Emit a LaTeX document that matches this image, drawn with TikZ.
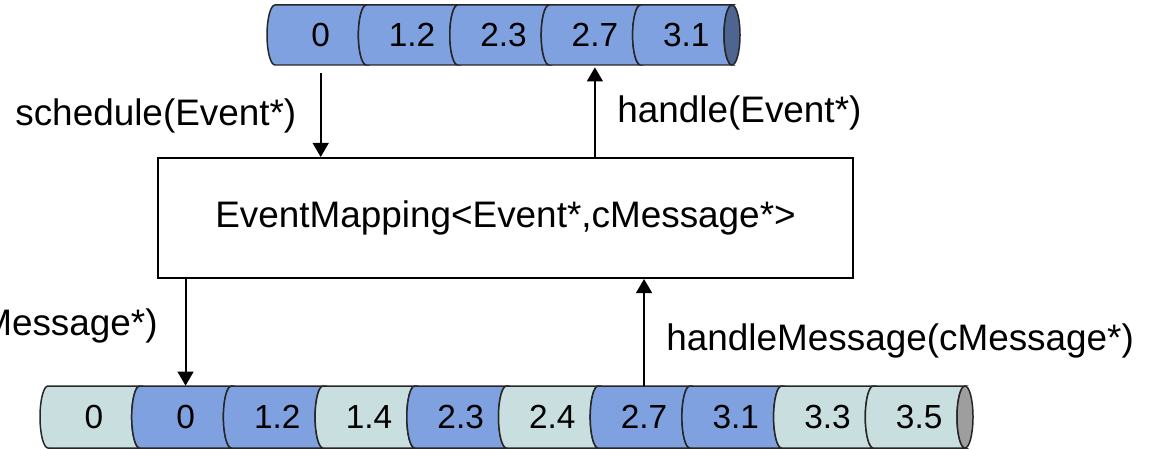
\documentclass[tikz,border=0pt]{standalone}
\usepackage{fontspec}
\setmainfont{Liberation Sans}
\usetikzlibrary{arrows.meta}

\definecolor{evblue}{RGB}{127,161,224}
\definecolor{evdark}{RGB}{78,101,145}
\definecolor{msglight}{RGB}{201,222,223}
\definecolor{msgend}{RGB}{158,158,158}

\begin{document}
\begin{tikzpicture}[x=0.02cm,y=0.02cm,
  cell/.style={draw=black!85,line width=0.85pt},
  num/.style={inner sep=0pt,minimum height=1.2cm,font=\fontsize{19}{22}\selectfont},
  lbl/.style={inner sep=0pt,font=\fontsize{21}{25}\selectfont},
  flow/.style={line width=1.1pt,-{Triangle[width=9pt,length=8pt]}}]

\useasboundingbox (0,0) rectangle (1151,-449);

% event queue
\foreach \v [count=\i from 0] in {0,1.2,2.3,2.7,3.1} {
  \pgfmathsetmacro\xa{275+91.4*\i}
  \pgfmathsetmacro\xb{\xa+91.4}
  \draw[cell,fill=evblue] (\xa,-5) arc[start angle=90,end angle=270,x radius=8,y radius=30]
    -- (\xb,-65) arc[start angle=270,end angle=90,x radius=8,y radius=30] -- cycle;
  \node[num] (t\i) at ({(\xa+\xb)/2},-35) {\v};
}
\draw[cell,fill=evdark] (732,-35) ellipse [x radius=8,y radius=30];

% message queue
\foreach \v/\c [count=\i from 0] in {0/msglight,0/evblue,1.2/evblue,1.4/msglight,2.3/evblue,
    2.4/msglight,2.7/evblue,3.1/evblue,3.3/msglight,3.5/msglight} {
  \pgfmathsetmacro\xa{48+91.7*\i}
  \pgfmathsetmacro\xb{\xa+91.7}
  \draw[cell,fill=\c] (\xa,-386) arc[start angle=90,end angle=270,x radius=8,y radius=31]
    -- (\xb,-448) arc[start angle=270,end angle=90,x radius=8,y radius=31] -- cycle;
  \node[num,minimum height=1.24cm] (b\i) at ({(\xa+\xb)/2},-417) {\v};
}
\draw[cell,fill=msgend] (965,-417) ellipse [x radius=8,y radius=31];

\node[draw,line width=1.1pt,minimum width=13.9cm,minimum height=2.4cm,
  font=\fontsize{21}{25}\selectfont] (map) at (505.5,-218) {EventMapping<Event*,cMessage*>};

\draw[flow,shorten <=0.16cm] (t0.south) -- (t0.south |- map.north);
\draw[flow,shorten >=0.04cm] (t3.south |- map.north) -- (t3.south);
\draw[flow] (b1.north |- map.south) -- (b1.north);
\draw[flow] (b6.north) -- (b6.north |- map.south);

\node[lbl,anchor=base west] (sched) at (15,-126) {schedule(Event*)};
\node[lbl,anchor=base west] (hand) at (617,-123) {handle(Event*)};
\node[lbl,anchor=base east] (schedmsg) at (158,-335) {Message*)};
\node[lbl,anchor=base west] (handmsg) at (666,-350) {handleMessage(cMessage*)};

\end{tikzpicture}
\end{document}
